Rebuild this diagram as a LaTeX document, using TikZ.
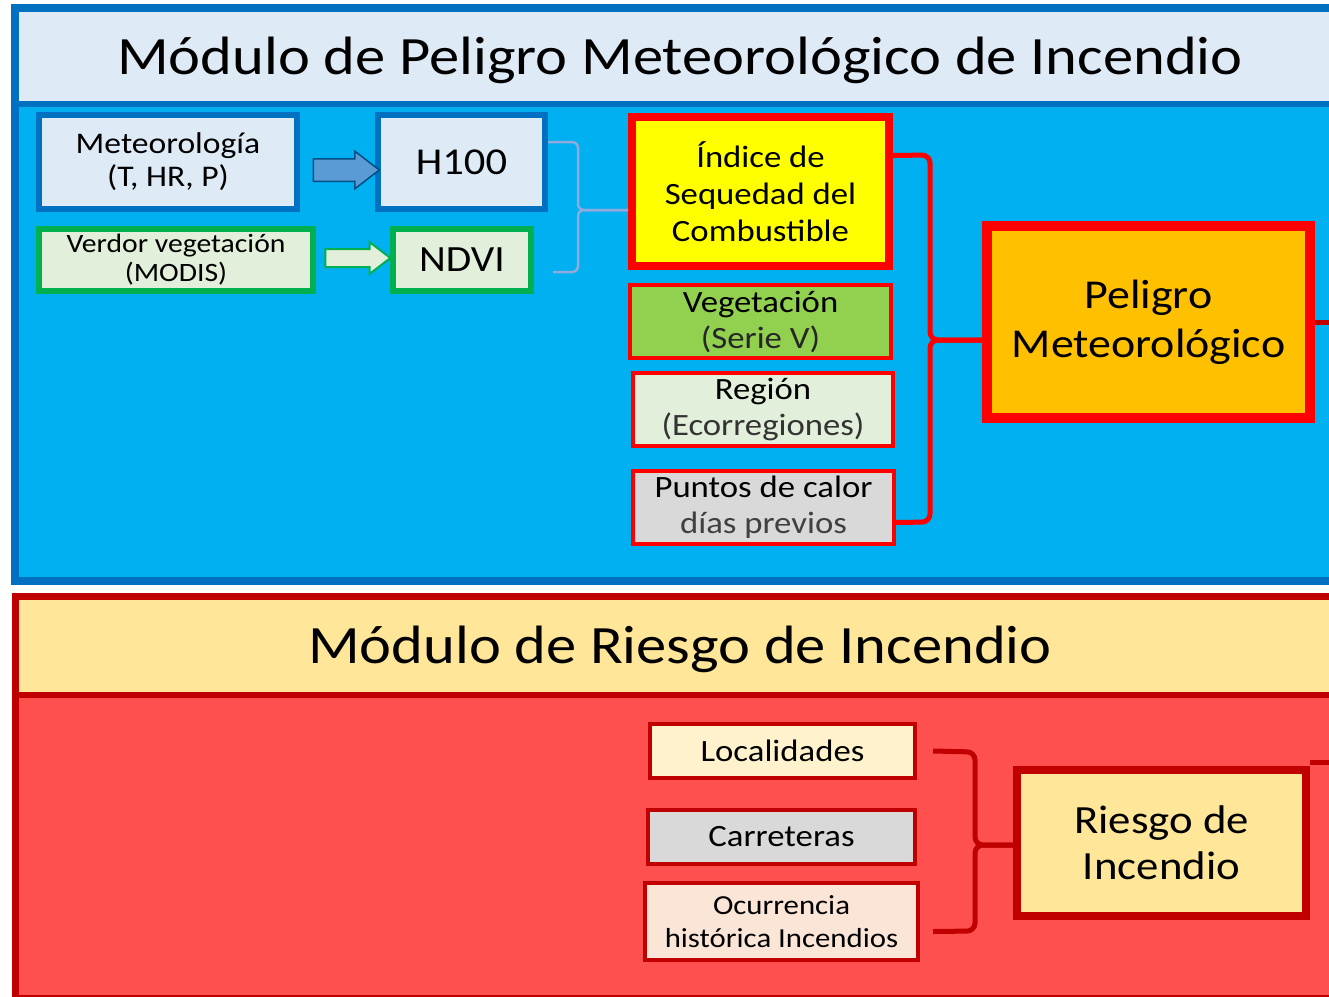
\documentclass[tikz,border=0pt]{standalone}
\usepackage{fontspec}
\setmainfont{Carlito}[FakeStretch=1.12]
\usetikzlibrary{shapes.arrows, positioning}
\definecolor{azulborde}{RGB}{0,112,192}
\definecolor{azulfondo}{RGB}{0,176,240}
\definecolor{azulclaro}{RGB}{222,235,247}
\definecolor{azulflecha}{RGB}{91,155,213}
\definecolor{azulllave}{RGB}{143,170,220}
\definecolor{verde}{RGB}{0,176,80}
\definecolor{verdeclaro}{RGB}{226,239,218}
\definecolor{verdeveg}{RGB}{146,208,80}
\definecolor{rojo}{RGB}{255,0,0}
\definecolor{rojooscuro}{RGB}{192,0,0}
\definecolor{rojofondo}{RGB}{255,80,80}
\definecolor{amarillo}{RGB}{255,255,0}
\definecolor{naranja}{RGB}{255,192,0}
\definecolor{crema}{RGB}{255,230,153}
\definecolor{cremaclaro}{RGB}{255,242,204}
\definecolor{gris}{RGB}{217,217,217}
\definecolor{salmon}{RGB}{251,229,214}
\newcommand{\tam}[2]{\fontsize{#1}{#2}\selectfont}
\tikzstyle{cajaazul} = [rectangle, align=center, draw=azulborde, fill=azulclaro, line width=6pt]
\tikzstyle{cajaverde} = [rectangle, align=center, draw=verde, fill=verdeclaro, line width=6pt]
\tikzstyle{cajaroja} = [rectangle, align=center, draw=rojo, line width=4pt]
\tikzstyle{cajariesgo} = [rectangle, align=center, draw=rojooscuro, line width=4pt]
\tikzstyle{flecha} = [single arrow, single arrow tip angle=75, inner sep=0pt]
\tikzstyle{llaveazul} = [azulllave, line width=2.5pt, rounded corners=6pt]
\tikzstyle{llaveroja} = [rojo, line width=5pt, rounded corners=8pt]
\tikzstyle{llaveriesgo} = [rojooscuro, line width=5pt, rounded corners=8pt]
\tikzstyle{salida} = [rojooscuro, line width=5pt]

\begin{document}
\begin{tikzpicture}[x=1pt, y=-1pt, inner sep=0pt]

\useasboundingbox (0,0) rectangle (1329,996);
\clip (0,0) rectangle (1329,996);
\fill[white] (0,0) rectangle (1329,996);

% modulo de peligro
\fill[azulclaro] (15,8) rectangle (1345,104);
\fill[azulfondo] (15,104) rectangle (1345,581);
\draw[azulborde, line width=6pt] (15,104) -- (1345,104);
\draw[azulborde, line width=8pt] (15,8) rectangle (1345,581);
\node (titulopeligro) [font=\tam{54}{60}] at (680,60) {Módulo de Peligro Meteorológico de Incendio};

% modulo de riesgo
\fill[crema] (15,596) rectangle (1345,695);
\fill[rojofondo] (15,695) rectangle (1345,998);
\draw[rojooscuro, line width=6pt] (15,695) -- (1345,695);
\draw[rojooscuro, line width=7pt] (15,596) rectangle (1345,998);
\node (tituloriesgo) [font=\tam{54}{60}] at (680,649) {Módulo de Riesgo de Incendio};

% entradas
\node (met) [cajaazul, font=\tam{30}{33}, minimum width=258, minimum height=94] at (168,162) {Meteorología\\(T, HR, P)};
\node (h100) [cajaazul, font=\tam{38}{44}, minimum width=167, minimum height=94] at (461.5,162) {H100};
\node (verdor) [cajaverde, font=\tam{26.5}{29}, minimum width=274, minimum height=62] at (176,260) {Verdor vegetación\\(MODIS)};
\node (ndvi) [cajaverde, font=\tam{37}{42}, minimum width=138, minimum height=62] at (462,260) {NDVI};
\node (flechamet) [flecha, draw=azulborde!70!black, fill=azulflecha, line width=1.5pt, minimum height=66, single arrow head extend=7.5] at (339,170) {\rule{0pt}{21pt}};
\node (flechandvi) [flecha, draw=verde, fill=verdeclaro, line width=2pt, minimum height=65, single arrow head extend=7] at (352,258) {\rule{0pt}{16pt}};

% variables
\node (indice) [cajaroja, fill=amarillo, line width=8pt, font=\tam{31}{37}, minimum width=257, minimum height=149] at (760.5,191.5) {Índice de\\Sequedad del\\Combustible};
\node (veg) [cajaroja, fill=verdeveg, font=\tam{31}{36}, minimum width=261, minimum height=73] at (760.5,321.5) {Vegetación\\\textcolor{black!85}{(Serie V)}};
\node (region) [cajaroja, fill=verdeclaro, font=\tam{31}{36}, minimum width=260, minimum height=73] at (763,409.5) {Región\\\textcolor{black!80}{(Ecorregiones)}};
\node (puntos) [cajaroja, fill=gris, font=\tam{31}{36}, minimum width=261, minimum height=73] at (763.5,507.5) {Puntos de calor\\\textcolor{black!75}{días previos}};
\node (peligro) [cajaroja, fill=naranja, line width=10pt, font=\tam{41}{49}, minimum width=323, minimum height=192] at (1148.5,322) {\raisebox{-3pt}{Peligro}\\\raisebox{-3pt}{Meteorológico}};

\node (loc) [cajariesgo, fill=cremaclaro, font=\tam{31}{36}, minimum width=265, minimum height=54] at (782.5,751) {Localidades};
\node (carr) [cajariesgo, fill=gris, font=\tam{31}{36}, minimum width=267, minimum height=54] at (781.5,837) {Carreteras};
\node (ocurr) [cajariesgo, fill=salmon, font=\tam{27.5}{33}, minimum width=273, minimum height=77] at (781.5,921.5) {Ocurrencia\\histórica Incendios};
\node (riesgo) [cajariesgo, fill=crema, line width=8pt, font=\tam{40}{46}, minimum width=289, minimum height=146] at (1161.5,843) {Riesgo de\\Incendio};

% llaves
\draw [llaveazul] ([yshift=20]h100.east) -- (578,142) -- (578,210) -- (indice.west |- 0,210);
\draw [llaveazul] ([xshift=19, yshift=-12]ndvi.east) -- (578,272) -- (578,210) -- (indice.west |- 0,210);
\draw [llaveroja] ([yshift=36]indice.east) -- (930,155) -- (930,340) -- (peligro.west |- 0,340);
\draw [llaveroja] ([yshift=-15]puntos.east) -- (930,522) -- (930,340) -- (peligro.west |- 0,340);
\draw [llaveriesgo] ([xshift=16]loc.east) -- (975,752) -- (975,845) -- (riesgo.west |- 0,845);
\draw [llaveriesgo] ([xshift=13, yshift=-10]ocurr.east) -- (975,931) -- (975,845) -- (riesgo.west |- 0,845);

% salidas
\coordinate (salidapeligro) at (1340,322);
\coordinate (salidariesgo) at (1340,762);
\draw [salida] (peligro.east) -- (salidapeligro);
\draw [salida] ([yshift=4]riesgo.north east) -- (salidariesgo);

\end{tikzpicture}
\end{document}
